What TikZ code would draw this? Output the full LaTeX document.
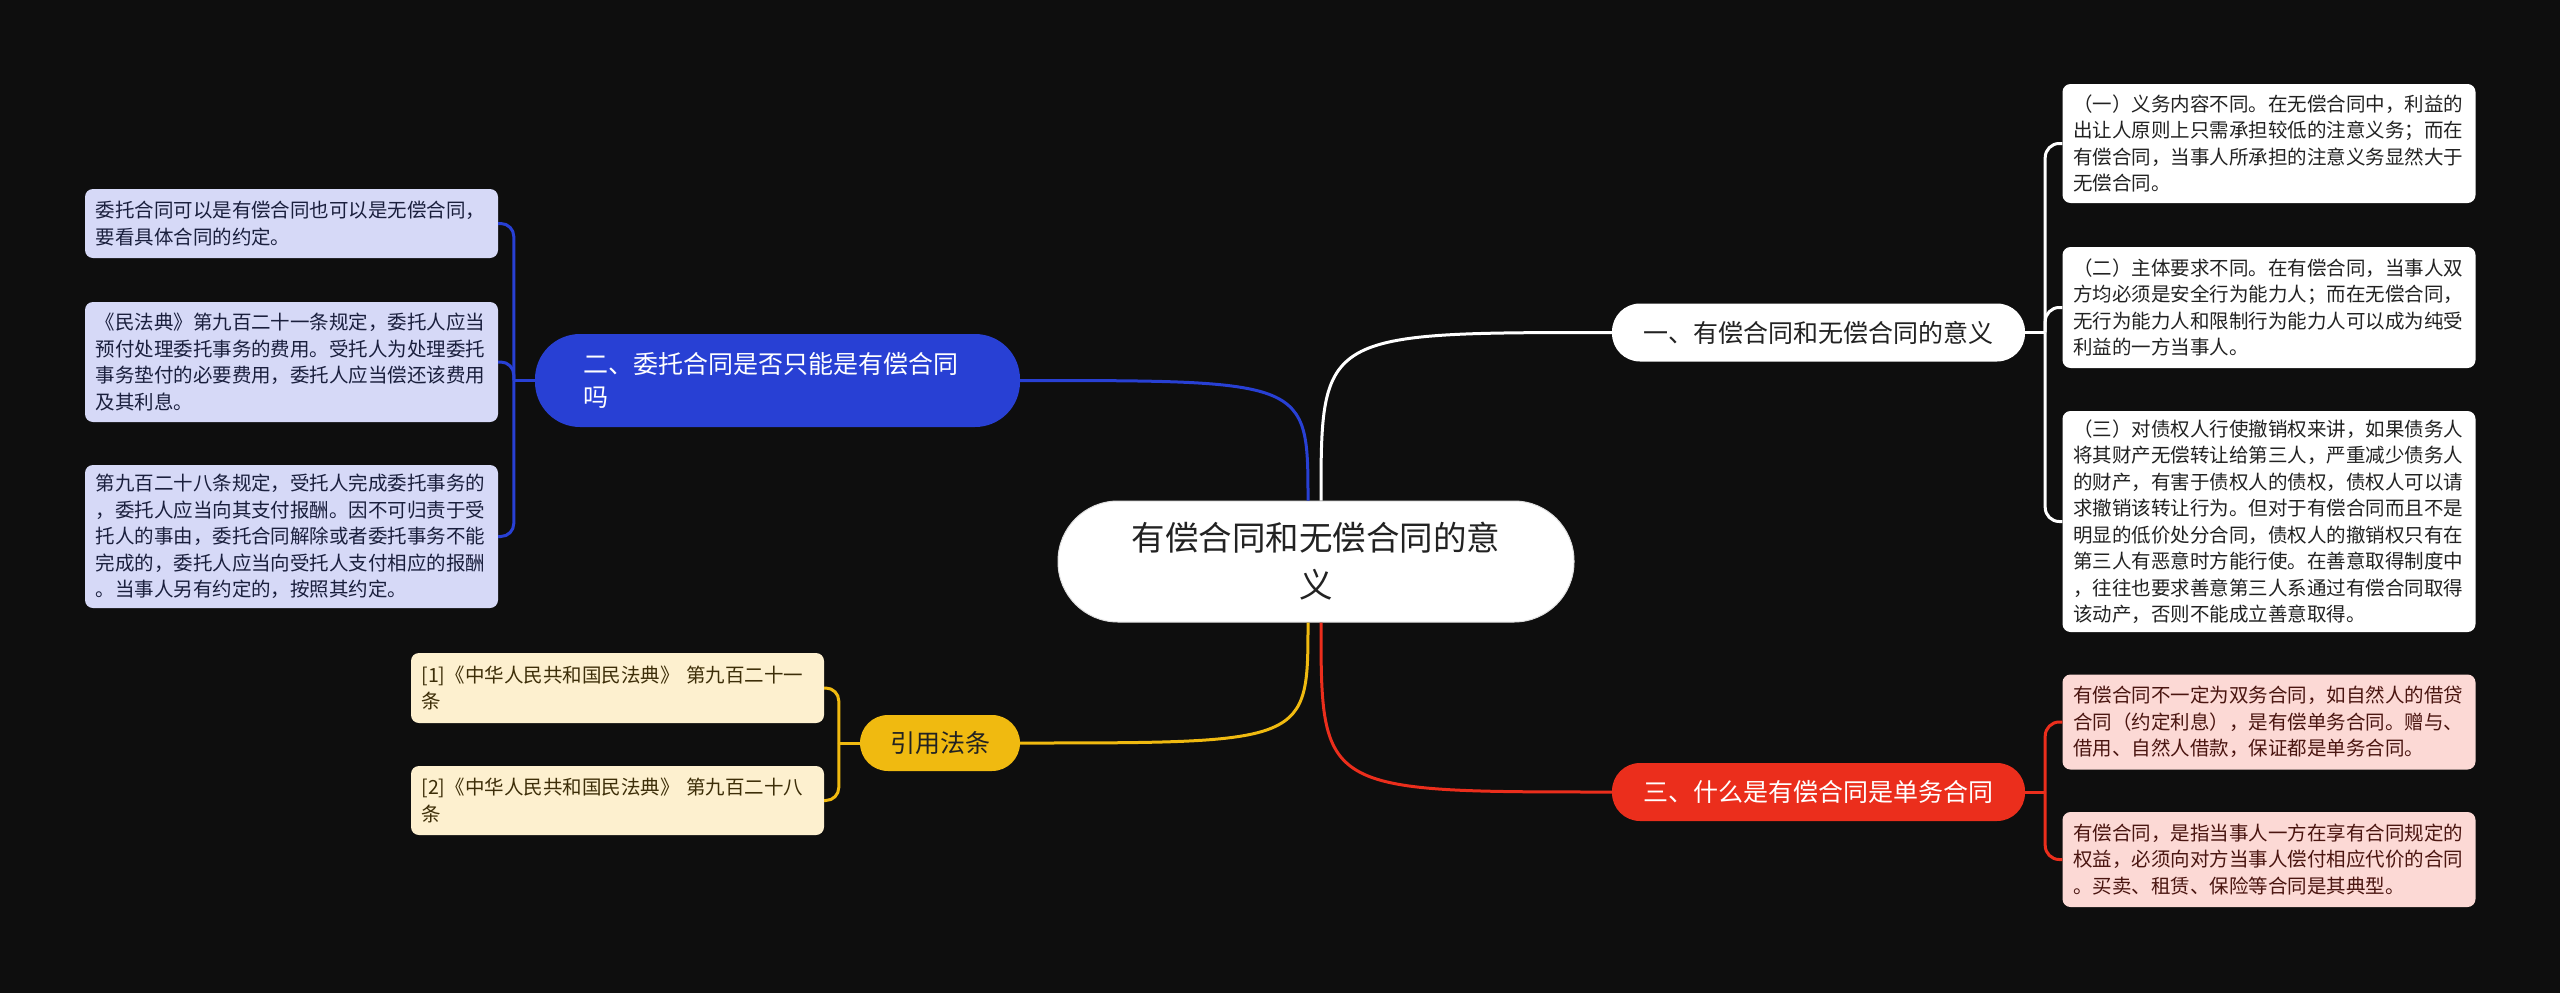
\documentclass[tikz,border=0pt]{standalone}
\usepackage{fontspec}
\setmainfont{Noto Sans CJK SC}
\definecolor{bg}{HTML}{0E0E0E}
\definecolor{blueline}{HTML}{2840D4}
\definecolor{bluenote}{HTML}{D6D9F7}
\definecolor{bluetext}{HTML}{1A1F3D}
\definecolor{redline}{HTML}{EB2E1C}
\definecolor{rednote}{HTML}{FCD9D5}
\definecolor{redtext}{HTML}{4A1510}
\definecolor{yellowline}{HTML}{F0BA10}
\definecolor{yellownote}{HTML}{FDF0CF}
\definecolor{yellowtext}{HTML}{3D2E08}
\definecolor{darktext}{HTML}{222222}

\begin{document}
\begin{tikzpicture}[x=1pt,y=-1pt,
    hub/.style={fill=white,draw=gray!25,line width=1pt,rounded corners=60pt,minimum width=516pt,minimum height=121pt,align=center,text=darktext,font=\fontsize{33.5}{47}\selectfont},
    topic/.style={rounded corners=28pt,minimum height=58pt,inner sep=0pt,font=\fontsize{25}{33}\selectfont},
    note/.style={rounded corners=8pt,text width=392pt,align=left,inner xsep=10.5pt,inner ysep=0pt,font=\fontsize{19.5}{26.5}\selectfont},
    link/.style={line width=3pt}]
  \fill[bg] (0,0) rectangle (2560,993);

  % centre
  \node[hub] (hub) at (1316,561.5) {有偿合同和无偿合同的意\\义};

  % main topics
  \node[topic,fill=white,text=darktext,minimum width=413pt] (meaning) at (1818.5,332.5) {一、有偿合同和无偿合同的意义};
  \node[topic,fill=blueline,text=white,minimum width=485pt,minimum height=93pt,rounded corners=45pt,text width=389pt,align=left,inner xsep=48pt] (agency) at (777.5,380.5) {二、委托合同是否只能是有偿合同\\吗};
  \node[topic,fill=yellowline,text=darktext,minimum width=160pt,minimum height=56pt] (laws) at (940,743) {引用法条};
  \node[topic,fill=redline,text=white,minimum width=413pt] (unilateral) at (1818.5,792) {三、什么是有偿合同是单务合同};

  % notes, right
  \node[note,fill=white,text=darktext,minimum height=119pt] (m1) at (2269,143.5) {（一）义务内容不同。在无偿合同中，利益的\\出让人原则上只需承担较低的注意义务；而在\\有偿合同，当事人所承担的注意义务显然大于\\无偿合同。};
  \node[note,fill=white,text=darktext,minimum height=121pt] (m2) at (2269,307.5) {（二）主体要求不同。在有偿合同，当事人双\\方均必须是安全行为能力人；而在无偿合同，\\无行为能力人和限制行为能力人可以成为纯受\\利益的一方当事人。};
  \node[note,fill=white,text=darktext,minimum height=221pt] (m3) at (2269,521.5) {（三）对债权人行使撤销权来讲，如果债务人\\将其财产无偿转让给第三人，严重减少债务人\\的财产，有害于债权人的债权，债权人可以请\\求撤销该转让行为。但对于有偿合同而且不是\\明显的低价处分合同，债权人的撤销权只有在\\第三人有恶意时方能行使。在善意取得制度中\\，往往也要求善意第三人系通过有偿合同取得\\该动产，否则不能成立善意取得。};
  \node[note,fill=rednote,text=redtext,minimum height=95pt] (u1) at (2269,722) {有偿合同不一定为双务合同，如自然人的借贷\\合同（约定利息），是有偿单务合同。赠与、\\借用、自然人借款，保证都是单务合同。};
  \node[note,fill=rednote,text=redtext,minimum height=95pt] (u2) at (2269,859.5) {有偿合同，是指当事人一方在享有合同规定的\\权益，必须向对方当事人偿付相应代价的合同\\。买卖、租赁、保险等合同是其典型。};

  % notes, left
  \node[note,fill=bluenote,text=bluetext,minimum height=69pt] (a1) at (291.5,223.5) {委托合同可以是有偿合同也可以是无偿合同，\\要看具体合同的约定。};
  \node[note,fill=bluenote,text=bluetext,minimum height=120pt] (a2) at (291.5,362) {《民法典》第九百二十一条规定，委托人应当\\预付处理委托事务的费用。受托人为处理委托\\事务垫付的必要费用，委托人应当偿还该费用\\及其利息。};
  \node[note,fill=bluenote,text=bluetext,minimum height=143pt] (a3) at (291.5,536.5) {第九百二十八条规定，受托人完成委托事务的\\，委托人应当向其支付报酬。因不可归责于受\\托人的事由，委托合同解除或者委托事务不能\\完成的，委托人应当向受托人支付相应的报酬\\。当事人另有约定的，按照其约定。};
  \node[note,fill=yellownote,text=yellowtext,minimum height=70pt] (l1) at (617.5,688) {[1]《中华人民共和国民法典》 第九百二十一\\条};
  \node[note,fill=yellownote,text=yellowtext,minimum height=69pt] (l2) at (617.5,800.5) {[2]《中华人民共和国民法典》 第九百二十八\\条};

  % centre to topics
  \coordinate (hubNW) at ([xshift=-8pt]hub.north);
  \coordinate (hubNE) at ([xshift=5pt]hub.north);
  \coordinate (hubSW) at ([xshift=-8pt]hub.south);
  \coordinate (hubSE) at ([xshift=5pt]hub.south);
  \draw[link,white] (hubNE) .. controls (hubNE |- meaning.west) .. (meaning.west);
  \draw[link,blueline] (hubNW) .. controls (hubNW |- agency.east) .. (agency.east);
  \draw[link,yellowline] (hubSW) .. controls (hubSW |- laws.east) .. (laws.east);
  \draw[link,redline] (hubSE) .. controls (hubSE |- unilateral.west) .. (unilateral.west);

  % topics to notes
  \draw[link,white] (meaning.east) -- ++(20,0) coordinate (jm);
  \foreach \n in {m1,m2,m3}
    \draw[link,white,rounded corners=14pt] (jm) |- (\n.west);
  \draw[link,redline] (unilateral.east) -- ++(20,0) coordinate (ju);
  \foreach \n in {u1,u2}
    \draw[link,redline,rounded corners=14pt] (ju) |- (\n.west);
  \draw[link,blueline] (agency.west) -- ++(-21,0) coordinate (ja);
  \foreach \n in {a1,a2,a3}
    \draw[link,blueline,rounded corners=13pt] (ja) |- (\n.east);
  \draw[link,yellowline] (laws.west) -- ++(-21,0) coordinate (jl);
  \foreach \n in {l1,l2}
    \draw[link,yellowline,rounded corners=13pt] (jl) |- (\n.east);
\end{tikzpicture}
\end{document}
